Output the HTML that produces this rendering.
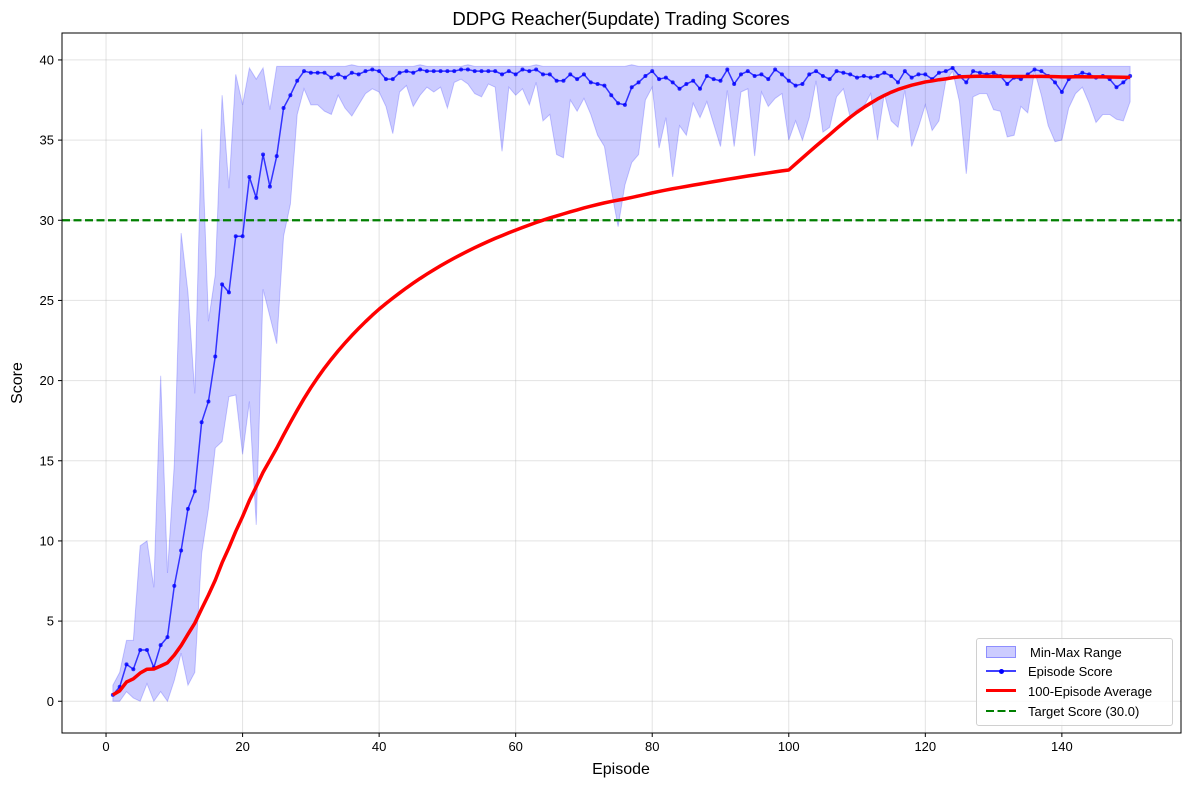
<!DOCTYPE html>
<html><head><meta charset="utf-8"><style>
html,body{margin:0;padding:0;background:#fff;}
svg{display:block;font-family:"Liberation Sans","DejaVu Sans",sans-serif;}
</style></head><body>
<svg id="chart" width="1189" height="790" viewBox="0 0 1189 790"></svg>
<script>
const episodeScores=[0.4,0.9,2.3,2.0,3.2,3.2,2.1,3.5,4.0,7.2,9.4,12.0,13.1,17.4,18.7,21.5,26.0,25.5,29.0,29.0,
32.7,31.4,34.1,32.1,34.0,37.0,37.8,38.7,39.3,39.2,39.2,39.2,38.9,39.1,38.9,39.2,39.1,39.3,39.4,39.3,
38.8,38.8,39.2,39.3,39.2,39.4,39.3,39.3,39.3,39.3,39.3,39.4,39.4,39.3,39.3,39.3,39.3,39.1,39.3,39.1,
39.4,39.3,39.4,39.1,39.1,38.7,38.7,39.1,38.8,39.1,38.6,38.5,38.4,37.8,37.3,37.2,38.3,38.6,39.0,39.3,
38.8,38.9,38.6,38.2,38.5,38.7,38.2,39.0,38.8,38.7,39.4,38.5,39.1,39.3,39.0,39.1,38.8,39.4,39.1,38.7,
38.4,38.5,39.1,39.3,39.0,38.8,39.3,39.2,39.1,38.9,39.0,38.9,39.0,39.2,39.0,38.6,39.3,38.9,39.1,39.1,
38.8,39.2,39.3,39.5,39.0,38.6,39.3,39.2,39.1,39.2,39.0,38.5,38.9,38.8,39.1,39.4,39.3,39.0,38.6,38.0,
38.8,39.0,39.2,39.1,38.9,39.0,38.8,38.3,38.6,39.0];
const minScores=[0.0,0.0,0.6,0.2,0.0,1.1,0.0,0.6,0.0,1.3,3.0,1.0,1.8,9.2,12.0,15.8,16.2,19.0,19.1,15.4,
18.7,11.0,25.7,24.0,22.3,29.0,31.0,36.6,38.2,37.2,37.2,36.8,36.6,37.8,37.0,36.5,37.2,37.9,38.2,38.0,
37.1,35.4,38.0,38.4,37.1,37.8,38.3,38.0,38.3,37.0,38.6,38.8,38.5,37.9,37.7,38.5,38.3,34.3,38.3,37.8,
38.2,37.2,38.6,36.2,36.6,34.1,33.9,37.5,36.8,37.6,36.6,35.3,34.6,31.9,29.6,32.2,33.6,34.1,37.5,38.3,
34.5,36.4,32.7,35.9,35.3,37.3,36.4,37.4,36.0,34.6,38.1,34.6,38.0,38.2,34.0,38.0,37.1,37.6,37.9,35.0,
36.2,35.0,36.4,38.7,35.5,35.8,37.7,38.2,36.4,36.9,37.1,37.9,35.0,37.9,36.2,35.8,38.1,34.6,35.8,37.2,
35.6,36.2,38.7,39.3,37.4,32.9,37.7,37.9,37.9,36.9,36.8,35.2,35.3,37.1,36.7,39.3,37.8,35.9,34.9,35.0,
37.0,37.9,38.3,37.3,36.1,36.6,36.6,36.3,36.2,37.4];
const maxScores=[1.0,1.8,3.8,3.8,9.7,10.0,7.1,20.3,8.0,14.8,29.2,25.5,19.2,35.7,23.7,26.6,37.8,32.0,39.1,37.2,
39.5,38.8,39.5,36.9,39.6,39.6,39.6,39.6,39.6,39.6,39.6,39.6,39.6,39.6,39.6,39.7,39.6,39.6,39.6,39.6,
39.6,39.6,39.6,39.6,39.6,39.7,39.6,39.6,39.6,39.6,39.6,39.6,39.7,39.6,39.6,39.6,39.6,39.6,39.6,39.6,
39.6,39.6,39.7,39.6,39.6,39.6,39.6,39.6,39.6,39.6,39.6,39.6,39.6,39.6,39.6,39.6,39.7,39.6,39.6,39.6,
39.6,39.6,39.6,39.6,39.6,39.6,39.6,39.6,39.6,39.6,39.6,39.6,39.6,39.6,39.6,39.6,39.6,39.6,39.6,39.6,
39.6,39.6,39.6,39.6,39.6,39.6,39.6,39.6,39.6,39.6,39.6,39.6,39.6,39.6,39.6,39.6,39.6,39.6,39.6,39.6,
39.6,39.6,39.6,39.6,39.6,39.6,39.6,39.6,39.6,39.6,39.6,39.6,39.6,39.6,39.6,39.6,39.6,39.6,39.6,39.6,
39.6,39.6,39.6,39.6,39.6,39.6,39.6,39.6,39.6,39.6];
const xTicks=[0,20,40,60,80,100,120,140];
const yTicks=[0,5,10,15,20,25,30,35,40];
const targetScore=30.0;
const avgWindow=100;

const NS="http://www.w3.org/2000/svg";
const svg=document.getElementById('chart');
const L=62,T=33,R=1181,B=733;
const xMin=-6.45,xMax=157.45,yMin=-1.98,yMax=41.68;
const X=v=>L+(v-xMin)/(xMax-xMin)*(R-L);
const Y=v=>T+(yMax-v)/(yMax-yMin)*(B-T);
function el(tag,attrs,parent){const e=document.createElementNS(NS,tag);for(const k in attrs)e.setAttribute(k,attrs[k]);(parent||svg).appendChild(e);return e;}

// grid
xTicks.forEach(t=>{const g=el('line',{x1:X(t),x2:X(t),y1:T,y2:B,stroke:'#b0b0b0','stroke-opacity':0.35,'stroke-width':1});

});
yTicks.forEach(t=>{const g=el('line',{x1:L,x2:R,y1:Y(t),y2:Y(t),stroke:'#b0b0b0','stroke-opacity':0.35,'stroke-width':1});

});

const eps=episodeScores.map((_,i)=>i+1);
// band
let d='M'+eps.map((e,i)=>X(e)+','+Y(maxScores[i])).join(' L');
for(let i=eps.length-1;i>=0;i--)d+=' L'+X(eps[i])+','+Y(minScores[i]);
d+=' Z';
const band=el('path',{d:d,fill:'rgba(0,0,255,0.2)',stroke:'rgba(0,0,255,0.2)','stroke-width':1});



// target
const tl=el('line',{x1:L,x2:R,y1:Y(targetScore),y2:Y(targetScore),stroke:'#007f00','stroke-width':2.2,'stroke-dasharray':'8,3.5'});



// episode line
const ep=el('polyline',{points:eps.map((e,i)=>X(e)+','+Y(episodeScores[i])).join(' '),fill:'none',stroke:'rgba(0,0,255,0.75)','stroke-width':1.5});


eps.forEach((e,i)=>{const c=el('circle',{cx:X(e),cy:Y(episodeScores[i]),r:2,fill:'rgba(0,0,255,0.8)'});

});

// rolling average
const avg=episodeScores.map((_,i)=>{const s=Math.max(0,i-avgWindow+1);const w=episodeScores.slice(s,i+1);return w.reduce((a,b)=>a+b,0)/w.length;});
const av=el('polyline',{points:eps.map((e,i)=>X(e)+','+Y(avg[i])).join(' '),fill:'none',stroke:'#ff0000','stroke-width':3.5,'stroke-linejoin':'round'});



// frame
const fr=el('rect',{x:L,y:T,width:R-L,height:B-T,fill:'none',stroke:'#000','stroke-width':1});



xTicks.forEach(t=>{el('line',{x1:X(t),x2:X(t),y1:B,y2:B+4,stroke:'#000'});
const tx=el('text',{x:X(t),y:B+18,'text-anchor':'middle','font-size':13,fill:'#000'});tx.textContent=t;

});
yTicks.forEach(t=>{el('line',{x1:L-4,x2:L,y1:Y(t),y2:Y(t),stroke:'#000'});
const tx=el('text',{x:L-8,y:Y(t)+4.5,'text-anchor':'end','font-size':13,fill:'#000'});tx.textContent=t;

});
</script>
<svg width="0" height="0"></svg>
<div style="position:absolute;left:0;top:0;width:1189px;height:790px;pointer-events:none;font-family:'Liberation Sans','DejaVu Sans',sans-serif;">
<div style="position:absolute;left:0;width:1242px;top:8px;text-align:center;font-size:18.5px;">DDPG Reacher(5update) Trading Scores</div>
<div style="position:absolute;left:0;width:1242px;top:761px;text-align:center;font-size:16px;">Episode</div>
<div style="position:absolute;left:-12px;top:374px;font-size:16px;transform:rotate(-90deg);width:60px;text-align:center;">Score</div>
<div style="position:absolute;left:976px;top:638px;width:195px;height:86px;border:1px solid #d0d0d0;border-radius:3px;background:rgba(255,255,255,0.8);font-size:13px;">
 <div style="position:absolute;left:9px;top:6px;"><span style="display:inline-block;width:28px;height:10px;background:rgba(0,0,255,0.2);border:1px solid rgba(0,0,255,0.3);vertical-align:-1px;"></span><span style="margin-left:14px;">Min-Max Range</span></div>
 <div style="position:absolute;left:9px;top:25px;"><span style="display:inline-block;width:30px;height:2px;background:rgba(0,0,255,0.75);vertical-align:4px;position:relative;"><span style="position:absolute;left:13px;top:-1.5px;width:5px;height:5px;border-radius:50%;background:blue;"></span></span><span style="margin-left:12px;">Episode Score</span></div>
 <div style="position:absolute;left:9px;top:45px;"><span style="display:inline-block;width:30px;height:3.5px;background:#f00;vertical-align:4px;"></span><span style="margin-left:12px;">100-Episode Average</span></div>
 <div style="position:absolute;left:9px;top:65px;"><span style="display:inline-block;width:30px;height:2.2px;background:repeating-linear-gradient(90deg,#007f00 0 8px,transparent 8px 11.5px);vertical-align:4px;"></span><span style="margin-left:12px;">Target Score (30.0)</span></div>
</div>
</div>
</body></html>
